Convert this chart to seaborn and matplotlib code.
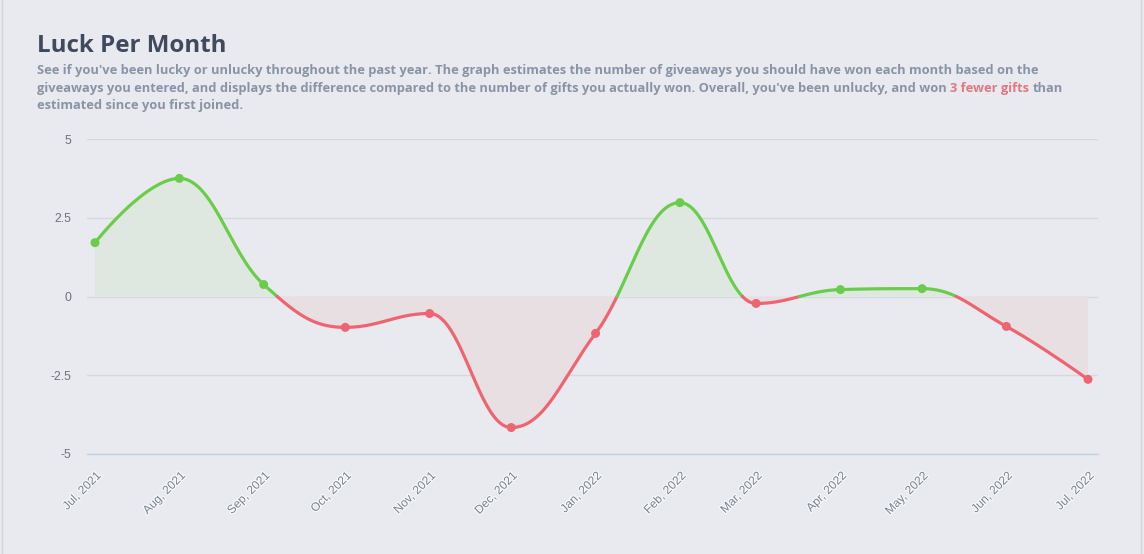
import numpy as np
import pandas as pd
import matplotlib
matplotlib.use('Agg')
import matplotlib.pyplot as plt
import matplotlib.patheffects as pe
from matplotlib.patches import Rectangle
import seaborn as sns

# values
months = ['Jul, 2021', 'Aug, 2021', 'Sep, 2021', 'Oct, 2021', 'Nov, 2021', 'Dec, 2021',
          'Jan, 2022', 'Feb, 2022', 'Mar, 2022', 'Apr, 2022', 'May, 2022', 'Jun, 2022', 'Jul, 2022']
month_starts = pd.date_range('2021-07-01', '2022-07-01', freq='MS')
luck = [1.71, 3.75, 0.38, -0.98, -0.54, -4.16, -1.17, 2.98, -0.22, 0.22, 0.25, -0.95, -2.63]
y_ticks = [5, 2.5, 0, -2.5, -5]
y_tick_labels = ['5', '2.5', '0', '-2.5', '-5']

title = 'Luck Per Month'
sub_1 = ("See if you've been lucky or unlucky throughout the past year. The graph estimates the "
         "number of giveaways you should have won each month based on the")
sub_2a = ("giveaways you entered, and displays the difference compared to the number of gifts "
          "you actually won. Overall, you've been unlucky, and won")
sub_2b = '3 fewer gifts'
sub_2c = 'than'
sub_3 = 'estimated since you first joined.'

BG = '#e9eaef'
GREEN = '#6acd4a'
RED = '#ee6470'
GREEN_FILL = '#dee8e1'
RED_FILL = '#e8dfe3'
SUB_COLOR = '#8a93a5'


def spline_path(xv, yv, smoothing=1.5, steps=80):
    # smoothed curve through the points, control points kept flat at local extremes
    n = len(xv)
    left = [None] * n
    right = [None] * n
    denom = smoothing + 1
    for i in range(1, n - 1):
        px, py = xv[i], yv[i]
        lx, ly = xv[i - 1], yv[i - 1]
        nx, ny = xv[i + 1], yv[i + 1]
        lcx = (smoothing * px + lx) / denom
        lcy = (smoothing * py + ly) / denom
        rcx = (smoothing * px + nx) / denom
        rcy = (smoothing * py + ny) / denom
        corr = (rcy - lcy) * (rcx - px) / (rcx - lcx) + py - rcy
        lcy += corr
        rcy += corr
        if lcy > ly and lcy > py:
            lcy = max(ly, py); rcy = 2 * py - lcy
        elif lcy < ly and lcy < py:
            lcy = min(ly, py); rcy = 2 * py - lcy
        if rcy > ny and rcy > py:
            rcy = max(ny, py); lcy = 2 * py - rcy
        elif rcy < ny and rcy < py:
            rcy = min(ny, py); lcy = 2 * py - rcy
        left[i] = (lcx, lcy)
        right[i] = (rcx, rcy)
    t = np.linspace(0, 1, steps + 1)[1:]
    xs, ys = [np.array([xv[0]])], [np.array([yv[0]])]
    for i in range(n - 1):
        p0 = (xv[i], yv[i])
        p3 = (xv[i + 1], yv[i + 1])
        p1 = right[i] or p0
        p2 = left[i + 1] or p3
        a, b, c, d = (1 - t) ** 3, 3 * (1 - t) ** 2 * t, 3 * (1 - t) * t ** 2, t ** 3
        xs.append(a * p0[0] + b * p1[0] + c * p2[0] + d * p3[0])
        ys.append(a * p0[1] + b * p1[1] + c * p2[1] + d * p3[1])
    return np.concatenate(xs), np.concatenate(ys)


def add_zero_crossings(x, y):
    xs, ys = [x[0]], [y[0]]
    for i in range(1, len(x)):
        if y[i - 1] != 0 and y[i] != 0 and (y[i - 1] > 0) != (y[i] > 0):
            t = y[i - 1] / (y[i - 1] - y[i])
            xs.append(x[i - 1] + t * (x[i] - x[i - 1]))
            ys.append(0.0)
        xs.append(x[i]); ys.append(y[i])
    return np.array(xs), np.array(ys)


days = np.array([(d - month_starts[0]).days for d in month_starts], dtype=float)
cx, cy = spline_path(days, luck)
cx, cy = add_zero_crossings(cx, cy)

sns.set_style('white', {'axes.facecolor': BG, 'figure.facecolor': BG})
plt.rcParams['font.family'] = ['Open Sans', 'DejaVu Sans']

fig = plt.figure(figsize=(11.44, 5.54), dpi=100)
ax = fig.add_axes([87 / 1144, 100 / 554, 1011 / 1144, 315 / 554])

ax.fill_between(cx, cy, 0, where=cy >= 0, interpolate=True, color=GREEN_FILL, lw=0, zorder=1)
ax.fill_between(cx, cy, 0, where=cy <= 0, interpolate=True, color=RED_FILL, lw=0, zorder=1)

# split the curve into runs above / below zero
cuts = [0] + [i for i in range(1, len(cy) - 1) if cy[i] == 0] + [len(cy) - 1]
for s, e in zip(cuts[:-1], cuts[1:]):
    seg = pd.DataFrame({'x': cx[s:e + 1], 'y': cy[s:e + 1]})
    col = GREEN if seg['y'].mean() >= 0 else RED
    sns.lineplot(data=seg, x='x', y='y', color=col, lw=2.3, sort=False, estimator=None,
                 ax=ax, zorder=3)

pts = pd.DataFrame({'x': days, 'y': luck, 'sign': ['pos' if v >= 0 else 'neg' for v in luck]})
sns.scatterplot(data=pts, x='x', y='y', hue='sign', palette={'pos': GREEN, 'neg': RED},
                s=42, linewidth=0, legend=False, ax=ax, zorder=4)

ax.set_xlim(-8 / 2.7205, 365 + 10 / 2.7205)
ax.set_ylim(-5, 5)
ax.set_xlabel('')
ax.set_ylabel('')
ax.set_yticks(y_ticks)
ax.set_yticklabels(y_tick_labels, fontsize=8.8, color='#6b7280', family='Liberation Sans')
ax.set_xticks(days)
ax.set_xticklabels(months, rotation=45, ha='right', rotation_mode='anchor',
                   fontsize=8.6, color='#7a8394', family='Liberation Sans')
for lab in ax.get_xticklabels():
    lab.set_path_effects([pe.withStroke(linewidth=1.6, foreground='white', alpha=0.8)])
ax.tick_params(axis='y', length=0, pad=11.5)
ax.tick_params(axis='x', length=7.5, width=1, color='#c3d2e2', pad=4)
ax.yaxis.grid(True, color='#d5d8e0', lw=1)
ax.xaxis.grid(False)
for side in ['top', 'left', 'right']:
    ax.spines[side].set_visible(False)
ax.spines['bottom'].set_color('#c3d2e2')
ax.spines['bottom'].set_linewidth(1)
ax.spines['bottom'].set_zorder(2)

# heading and description
fig.text(37 / 1144, 1 - 52 / 554, title, fontsize=17.4, weight='bold', color='#3f4a5f',
         va='baseline')
sub_kw = dict(fontsize=9.3, weight='bold', va='baseline')
fig.text(37 / 1144, 1 - 74 / 554, sub_1, color=SUB_COLOR, **sub_kw)
fig.text(37 / 1144, 1 - 109 / 554, sub_3, color=SUB_COLOR, **sub_kw)

fig.canvas.draw()
renderer = fig.canvas.get_renderer()


def text_width(s):
    t = fig.text(0, 0, s, **sub_kw)
    w = t.get_window_extent(renderer).width
    t.remove()
    return w


space = text_width('a a') - text_width('aa')
x0 = 37
y2 = 1 - 92 / 554
fig.text(x0 / 1144, y2, sub_2a, color=SUB_COLOR, **sub_kw)
x0 += text_width(sub_2a) + space
fig.text(x0 / 1144, y2, sub_2b, color='#e07882', **sub_kw)
x0 += text_width(sub_2b) + space
fig.text(x0 / 1144, y2, sub_2c, color=SUB_COLOR, **sub_kw)

# panel border
fig.patches.append(Rectangle((2 / 1144, -0.01), 1139 / 1144, 1.02, transform=fig.transFigure,
                             fill=False, edgecolor='#d3d5dc', lw=1))

fig.savefig('out.png', dpi=100, facecolor=BG)
